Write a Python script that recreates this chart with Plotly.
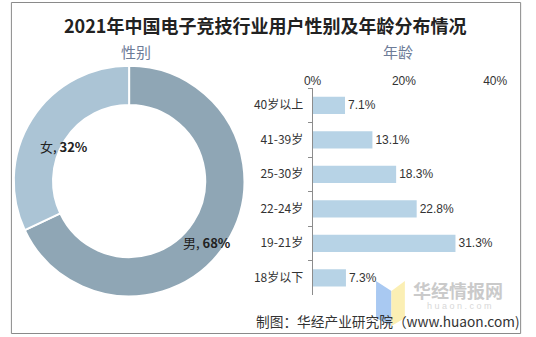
import plotly.graph_objects as go

W, H = 536, 337

# ---- data ----
gender_labels = ["男", "女"]
gender_values = [68, 32]
gender_colors = ["#8fa6b5", "#abc4d5"]

age_labels = ["40岁以上", "41-39岁", "25-30岁", "22-24岁", "19-21岁", "18岁以下"]
age_values = [7.1, 13.1, 18.3, 22.8, 31.3, 7.3]
x_ticks = [0, 20, 40]

title_text = "2021年中国电子竞技行业用户性别及年龄分布情况"
source_text = "制图：华经产业研究院（www.huaon.com)"

FONT = "Noto Sans CJK SC, Liberation Sans, Arial, sans-serif"
NUMFONT = "Liberation Sans, Arial, Noto Sans CJK SC, sans-serif"

def px(x):
    return x / W

def py(y):
    return 1 - y / H

fig = go.Figure()

fig.add_trace(go.Pie(
    labels=gender_labels,
    values=gender_values,
    hole=0.66,
    sort=False,
    direction="clockwise",
    rotation=0,
    marker=dict(colors=gender_colors, line=dict(color="white", width=2)),
    textinfo="none",
    showlegend=False,
    domain=dict(x=[px(5), px(245)], y=[py(301), py(61)]),
))

fig.add_trace(go.Bar(
    x=age_values,
    y=age_labels,
    orientation="h",
    marker=dict(color="#b7d3e6", line=dict(width=0)),
    texttemplate="%{x:.1f}%",
    textposition="outside",
    textfont=dict(family=NUMFONT, size=12, color="#333333"),
    cliponaxis=False,
    showlegend=False,
    xaxis="x", yaxis="y",
))

def ann(text, x, y, size, color, family=FONT, xanchor="center"):
    return dict(text=text, x=px(x), y=py(y), xref="paper", yref="paper",
                xanchor=xanchor, yanchor="middle", showarrow=False,
                font=dict(family=family, size=size, color=color))

annotations = [
    ann(f"<b>{title_text}</b>", 266, 25, 18, "#222222"),
    ann("性别", 132, 51, 15, "#6d7c98"),
    ann("年龄", 405, 51, 15, "#6d7c98"),
    ann("<b>华经情报网</b>", 467, 290, 18, "#cacaca"),
    ann("h u a o n . c o m", 469, 306, 9, "#d8d8d8", family=NUMFONT),
    ann(source_text, 255, 321, 13.7, "#333333", xanchor="left"),
]

# pie labels
pie_label_pos = {"男": (206, 242), "女": (57, 146)}
total = sum(gender_values)
for lab, val in zip(gender_labels, gender_values):
    xx, yy = pie_label_pos[lab]
    annotations.append(ann(f"{lab}, <b>{round(val / total * 100)}%</b>", xx, yy, 13, "#222222"))

shapes = [
    # logo watermark
    dict(type="path", xref="paper", yref="paper",
         path=f"M {px(382)},{py(281)} L {px(398)},{py(291)} L {px(398)},{py(326)} L {px(382)},{py(318)} Z",
         fillcolor="#a9c9f2", line=dict(width=0), layer="below"),
    dict(type="path", xref="paper", yref="paper",
         path=f"M {px(398)},{py(291)} L {px(412)},{py(281)} L {px(412)},{py(318)} L {px(398)},{py(326)} Z",
         fillcolor="#fbefb4", line=dict(width=0), layer="below"),
    # border
    dict(type="rect", xref="paper", yref="paper",
         x0=px(2.5), x1=px(532.5), y0=py(333.5), y1=py(2.5),
         line=dict(color="#8a8a8a", width=1)),
]

fig.update_layout(
    width=W, height=H,
    margin=dict(l=0, r=0, t=0, b=0),
    paper_bgcolor="white",
    plot_bgcolor="rgba(0,0,0,0)",
    bargap=0.5,
    xaxis=dict(domain=[px(316), px(506)], range=[0, 40], side="top",
               tickvals=x_ticks, ticktext=[f"{v}%" for v in x_ticks],
               showgrid=False, zeroline=False, showline=False, ticks="",
               tickfont=dict(family=NUMFONT, size=12, color="#333333"),
               anchor="y", fixedrange=True),
    yaxis=dict(domain=[py(295), py(88)], autorange="reversed",
               showgrid=False, zeroline=False, showline=True,
               linecolor="#8c8c8c", linewidth=1,
               ticks="outside", ticklen=4, tickcolor="#8c8c8c", tickson="boundaries",
               ticklabelstandoff=6,
               tickfont=dict(family=FONT, size=12, color="#333333"),
               anchor="x", fixedrange=True),
    annotations=annotations,
    shapes=shapes,
)

fig.write_html("out.html")
